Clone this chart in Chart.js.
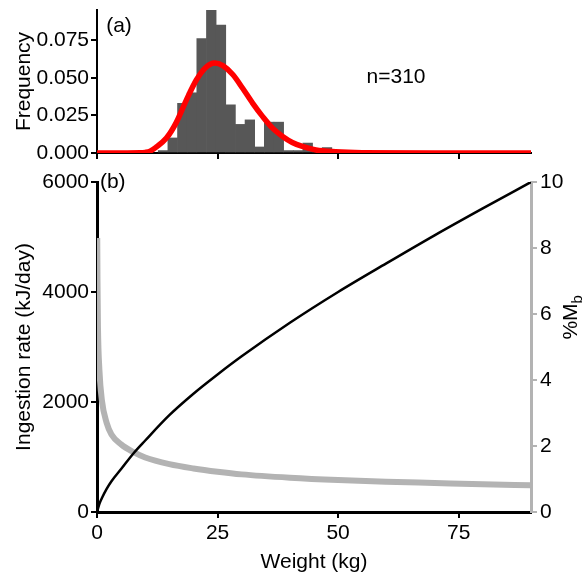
<!DOCTYPE html>
<html lang="en">
<head>
<meta charset="UTF-8">
<title>Weight distribution and ingestion rate</title>
<script src="https://cdn.jsdelivr.net/npm/chart.js"></script>
<style>
    body {
        margin: 0;
        background: #fff;
    }
    .panel {
        position: absolute;
        left: 0;
        width: 587px;
    }
    #panelA { top: 0; height: 172px; }
    #panelB { top: 160px; height: 416px; }
</style>
</head>
<body>
<div class="panel" id="panelA"><canvas id="histChart"></canvas></div>
<div class="panel" id="panelB"><canvas id="rateChart"></canvas></div>

<script>
// (a) weight histogram, 2 kg bins (frequency density)
var binCenters = [13.7, 15.7, 17.7, 19.7, 21.7, 23.7, 25.7, 27.7, 29.7, 31.7, 33.7, 35.7, 37.7, 39.7, 41.7, 43.7, 45.7, 47.7];
var binFreq = [0.0016, 0.0100, 0.0330, 0.0400, 0.0760, 0.0950, 0.0850, 0.0320, 0.0190, 0.0220, 0.0040, 0.0205, 0.0205, 0.0016, 0.0016, 0.0066, 0.0016, 0.0036];

// fitted curve
var fitWeight = [0, 5, 9, 10, 11, 12.3, 14.4, 16.4, 18.5, 20.6, 22.6, 24.4, 26.1, 28.2, 30.2, 32.3, 34.4, 36.4, 38.5, 40.5, 42.6, 45.4, 49.5, 55, 70, 90];
var fitFreq = [0, 0, 0.0001, 0.0004, 0.0012, 0.0040, 0.0099, 0.0200, 0.0350, 0.0485, 0.0570, 0.0598, 0.0580, 0.0520, 0.0430, 0.0330, 0.0240, 0.0165, 0.0110, 0.0070, 0.0044, 0.0020, 0.0008, 0.0002, 0, 0];

// (b) ingestion rate (kJ/day) against weight
var rateWeight = [0, 0.5, 1, 2, 3, 5, 7.5, 10, 15, 20, 25, 30, 40, 50, 60, 70, 80, 90];
var ingestionRate = [0, 150, 250, 420, 560, 780, 1060, 1300, 1760, 2150, 2500, 2830, 3440, 4000, 4520, 5030, 5520, 6000];

// (b) daily intake as % of body mass
var mbWeight = [0.05, 0.1, 0.2, 0.5, 1, 2, 3, 5, 7.5, 10, 15, 20, 25, 30, 40, 50, 60, 70, 80, 90];
var mbPercent = [8.3, 7.0, 5.6, 4.3, 3.4, 2.7, 2.35, 2.05, 1.82, 1.65, 1.45, 1.32, 1.22, 1.14, 1.04, 0.97, 0.92, 0.88, 0.84, 0.81];

var FONT = "'Liberation Sans', Arial, sans-serif";
Chart.defaults.font.family = FONT;
Chart.defaults.font.size = 21;
Chart.defaults.color = '#000';

function toPoints(xs, ys) {
    return xs.map(function (x, i) { return { x: x, y: ys[i] }; });
}

function plain(v) {
    return String(v);
}

// tick marks only, no grid lines inside the plot
function axisLines(color, width) {
    return {
        grid: { display: true, drawOnChartArea: false, drawTicks: true, tickLength: 6, color: color, lineWidth: 2, offset: false },
        border: { display: true, color: color, width: width }
    };
}

// panel letters, n label and the right axis title
var textPlugin = {
    id: 'textPlugin',
    afterDraw: function (chart, args, opts) {
        var ctx = chart.ctx;
        ctx.save();
        ctx.fillStyle = '#000';
        ctx.font = '21px ' + FONT;
        ctx.textBaseline = 'middle';
        ctx.textAlign = 'left';
        (opts.items || []).forEach(function (it) {
            ctx.fillText(it.text, chart.scales.x.getPixelForValue(it.x), chart.scales.y.getPixelForValue(it.y));
        });
        if (opts.rightTitle) {
            var s = chart.scales.y1;
            ctx.translate(s.right - 10, s.getPixelForValue(opts.rightTitle.y));
            ctx.rotate(-Math.PI / 2);
            ctx.textBaseline = 'alphabetic';
            var main = opts.rightTitle.text, sub = opts.rightTitle.sub;
            var w1 = ctx.measureText(main).width;
            ctx.font = '15px ' + FONT;
            var w2 = ctx.measureText(sub).width;
            ctx.font = '21px ' + FONT;
            ctx.fillText(main, -(w1 + w2) / 2, 0);
            ctx.font = '15px ' + FONT;
            ctx.fillText(sub, -(w1 + w2) / 2 + w1, 5);
        }
        ctx.restore();
    }
};

var xAxisA = Object.assign({
    type: 'linear', min: 0, max: 90, offset: false,
    ticks: { display: false, stepSize: 25, includeBounds: false },
    afterFit: function (s) { s.height = 19; }
}, axisLines('#000', 2));

var yAxisA = Object.assign({
    min: 0, max: 0.095,
    ticks: { stepSize: 0.025, includeBounds: false, padding: 2, callback: function (v) { return v.toFixed(3); } },
    title: { display: true, text: 'Frequency', padding: { top: 12, bottom: 0 } },
    afterFit: function (s) { s.width = 97; s.paddingTop = 0; }
}, axisLines('#000', 2));

new Chart(document.getElementById('histChart'), {
    type: 'bar',
    data: {
        datasets: [{
            type: 'line',
            data: toPoints(fitWeight, fitFreq),
            borderColor: '#ff0000',
            borderWidth: 5.5,
            pointRadius: 0,
            cubicInterpolationMode: 'monotone',
            order: 0
        }, {
            type: 'bar',
            data: toPoints(binCenters, binFreq),
            backgroundColor: '#575757',
            borderWidth: 0,
            barPercentage: 1,
            categoryPercentage: 1,
            order: 1
        }]
    },
    options: {
        responsive: true,
        maintainAspectRatio: false,
        animation: false,
        layout: { padding: { top: 10, right: 56, left: 0, bottom: 0 } },
        plugins: {
            legend: { display: false },
            tooltip: { enabled: false },
            textPlugin: {
                items: [
                    { text: '(a)', x: 1.9, y: 0.084 },
                    { text: 'n=310', x: 55.9, y: 0.0504 }
                ]
            }
        },
        scales: { x: xAxisA, y: yAxisA }
    },
    plugins: [textPlugin]
});

var xAxisB = Object.assign({
    type: 'linear', min: 0, max: 90,
    ticks: { stepSize: 25, includeBounds: false, padding: 3, maxRotation: 0, callback: plain },
    title: { display: true, text: 'Weight (kg)', padding: { top: 0, bottom: 1 } },
    afterFit: function (s) { s.height = 64; }
}, axisLines('#000', 3));

var yAxisB = Object.assign({
    position: 'left', min: 0, max: 6000,
    ticks: { stepSize: 2000, includeBounds: false, padding: 2, callback: plain },
    title: { display: true, text: 'Ingestion rate (kJ/day)', padding: { top: 12, bottom: 0 } },
    afterFit: function (s) { s.width = 97; s.paddingTop = 0; }
}, axisLines('#000', 3));

var y1AxisB = Object.assign({
    position: 'right', min: 0, max: 10,
    ticks: { stepSize: 2, includeBounds: false, padding: 3, color: '#000', callback: plain },
    afterFit: function (s) { s.width = 56; s.paddingTop = 0; }
}, axisLines('#b3b3b3', 3));

new Chart(document.getElementById('rateChart'), {
    type: 'line',
    data: {
        datasets: [{
            data: toPoints(rateWeight, ingestionRate),
            borderColor: '#000',
            borderWidth: 2.5,
            pointRadius: 0,
            cubicInterpolationMode: 'monotone',
            yAxisID: 'y',
            order: 0
        }, {
            data: toPoints(mbWeight, mbPercent),
            borderColor: '#b3b3b3',
            borderWidth: 6,
            pointRadius: 0,
            cubicInterpolationMode: 'monotone',
            yAxisID: 'y1',
            order: 1
        }]
    },
    options: {
        responsive: true,
        maintainAspectRatio: false,
        animation: false,
        layout: { padding: { top: 22, right: 0, left: 0, bottom: 0 } },
        plugins: {
            legend: { display: false },
            tooltip: { enabled: false },
            textPlugin: {
                items: [{ text: '(b)', x: 0.6, y: 6000 }],
                rightTitle: { text: '%M', sub: 'b', y: 5.9 }
            }
        },
        scales: { x: xAxisB, y: yAxisB, y1: y1AxisB }
    },
    plugins: [textPlugin]
});
</script>
</body>
</html>
